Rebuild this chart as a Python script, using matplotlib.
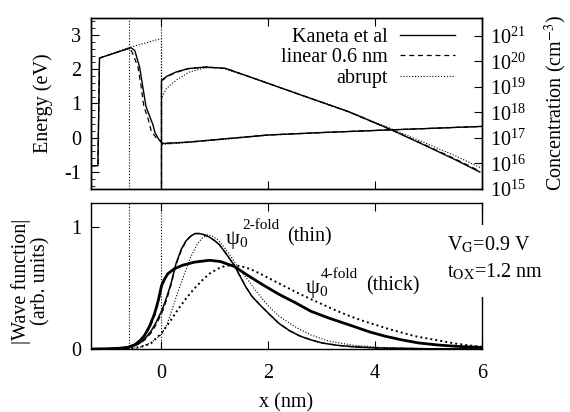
import numpy as np
import matplotlib
matplotlib.use("Agg")
import matplotlib.pyplot as plt
from matplotlib.patches import Rectangle

plt.rcParams['font.family'] = 'serif'
plt.rcParams['font.serif'] = ['Liberation Serif', 'DejaVu Serif']
plt.rcParams['mathtext.fontset'] = 'stix'
plt.rcParams['axes.unicode_minus'] = False
plt.rcParams['axes.linewidth'] = 1.0

FS = 14.5

# ---- top panel: band edges (eV) ----
band_x_kaneta = [-1.32, -1.19, -1.16, -0.57, -0.5, -0.41, -0.35, -0.29, -0.22, -0.16, -0.12,
                 -0.05, 0.02, 0.5, 1.0, 2.0, 3.0, 4.3, 5.0, 6.0]
band_e_kaneta = [-0.82, -0.82, 2.33, 2.63, 2.55, 2.07, 1.49, 0.91, 0.62, 0.38, 0.14,
                 -0.05, -0.17, -0.13, -0.06, 0.08, 0.15, 0.23, 0.27, 0.33]
band_x_linear = [-1.32, -1.19, -1.16, -0.6, -0.55, -0.44, -0.38, -0.33, -0.25, -0.19, -0.1,
                 -0.02, 0.02, 0.5, 1.0, 2.0, 3.0, 4.3, 5.0, 6.0]
band_e_linear = [-0.82, -0.82, 2.33, 2.62, 2.5, 2.07, 1.49, 0.91, 0.55, 0.18, 0.0,
                 -0.1, -0.17, -0.13, -0.06, 0.08, 0.15, 0.23, 0.27, 0.33]
band_x_abrupt = [-1.32, -1.19, -1.16, -0.6, 0.0, 0.0, 0.5, 1.0, 2.0, 3.0, 4.3, 5.0, 6.0]
band_e_abrupt = [-0.82, -0.82, 2.33, 2.64, 2.9, -0.2, -0.14, -0.07, 0.07, 0.15, 0.23, 0.27, 0.33]

# ---- top panel: electron concentration (cm^-3) ----
conc_x_kaneta = [0.0, 0.0, 0.1, 0.27, 0.5, 0.83, 1.2, 1.6, 2.2, 2.8, 3.5, 4.3, 5.0, 5.5, 5.96]
conc_n_kaneta = [1e10, 1.8e19, 2.6e19, 3.8e19, 5.2e19, 6.0e19, 5.3e19, 2.7e19, 9.7e18,
                 3.5e18, 1.07e18, 2.1e17, 4.4e16, 1.4e16, 4.6e15]
conc_x_linear = [0.0, 0.0, 0.1, 0.27, 0.5, 0.83, 1.2, 1.6, 2.2, 2.8, 3.5, 4.3, 5.0, 5.5, 5.96]
conc_n_linear = [1e10, 1.7e19, 2.5e19, 3.7e19, 5.2e19, 6.0e19, 5.3e19, 2.7e19, 9.7e18,
                 3.5e18, 1.07e18, 2.1e17, 4.6e16, 1.5e16, 5.0e15]
conc_x_abrupt = [0.0, 0.0, 0.09, 0.27, 0.52, 0.8, 1.1, 1.6, 2.2, 2.8, 3.5, 4.3, 5.0, 5.5, 5.96]
conc_n_abrupt = [1e10, 3.5e18, 8.5e18, 1.8e19, 3.8e19, 5.5e19, 5.7e19, 2.7e19, 9.7e18,
                 3.5e18, 1.1e18, 2.3e17, 5.6e16, 2.0e16, 7.0e15]

# ---- bottom panel: wave functions ----
psi2_x_kaneta = [-1.32, -1.0, -0.8, -0.63, -0.5, -0.4, -0.3, -0.19, -0.1, 0.02, 0.1, 0.18,
                 0.27, 0.37, 0.46, 0.55, 0.63, 0.71, 0.8, 0.9, 1.0, 1.08, 1.2, 1.36, 1.47,
                 1.58, 1.7, 1.85, 2.01, 2.2, 2.4, 2.6, 2.8, 3.0, 3.3, 3.6, 4.07, 5.0, 6.0]
psi2_kaneta = [0, 0.002, 0.006, 0.014, 0.03, 0.05, 0.09, 0.15, 0.22, 0.33, 0.43, 0.54,
               0.7, 0.82, 0.89, 0.93, 0.95, 0.95, 0.94, 0.92, 0.89, 0.86, 0.79, 0.69, 0.6,
               0.51, 0.43, 0.36, 0.29, 0.21, 0.15, 0.105, 0.075, 0.05, 0.03, 0.018, 0.008, 0.002, 0.0]
psi2_x_linear = [-1.32, -1.0, -0.8, -0.63, -0.5, -0.4, -0.3, -0.19, -0.1, 0.02, 0.1, 0.18,
                 0.27, 0.37, 0.46, 0.55, 0.63, 0.71, 0.8, 0.9, 1.0, 1.08, 1.2, 1.36, 1.47,
                 1.58, 1.7, 1.85, 2.01, 2.2, 2.4, 2.6, 2.8, 3.0, 3.3, 3.6, 4.07, 5.0, 6.0]
psi2_linear = [0, 0.002, 0.006, 0.013, 0.027, 0.045, 0.08, 0.135, 0.2, 0.31, 0.41, 0.53,
               0.69, 0.81, 0.89, 0.93, 0.95, 0.95, 0.94, 0.92, 0.89, 0.86, 0.79, 0.69, 0.6,
               0.51, 0.43, 0.36, 0.29, 0.21, 0.15, 0.105, 0.075, 0.05, 0.03, 0.018, 0.008, 0.002, 0.0]
psi2_x_abrupt = [-1.32, -0.6, -0.4, -0.2, 0.0, 0.1, 0.18, 0.3, 0.43, 0.55, 0.68, 0.78, 0.86,
                 0.95, 1.05, 1.15, 1.27, 1.42, 1.58, 1.8, 2.01, 2.2, 2.51, 2.8, 3.13, 3.6,
                 4.1, 5.0, 6.0]
psi2_abrupt = [0, 0.004, 0.015, 0.05, 0.12, 0.2, 0.3, 0.46, 0.62, 0.76, 0.87, 0.92, 0.94,
               0.93, 0.9, 0.85, 0.78, 0.68, 0.59, 0.46, 0.35, 0.27, 0.18, 0.115, 0.065, 0.03,
               0.013, 0.003, 0.0]

psi4_x_kaneta = [-1.32, -1.0, -0.8, -0.63, -0.5, -0.4, -0.32, -0.22, -0.13, -0.06, 0.0, 0.05,
                 0.12, 0.24, 0.4, 0.62, 0.9, 1.1, 1.36, 1.6, 1.89, 2.2, 2.51, 2.8, 3.13, 3.57,
                 3.9, 4.19, 4.5, 4.81, 5.2, 5.6, 6.0]
psi4_kaneta = [0, 0.002, 0.006, 0.014, 0.035, 0.07, 0.11, 0.19, 0.29, 0.4, 0.52, 0.57,
               0.62, 0.66, 0.69, 0.715, 0.73, 0.72, 0.68, 0.61, 0.53, 0.45, 0.38, 0.31, 0.255,
               0.19, 0.14, 0.105, 0.075, 0.05, 0.032, 0.02, 0.013]
psi4_x_linear = [-1.32, -1.0, -0.8, -0.63, -0.5, -0.4, -0.32, -0.22, -0.13, -0.06, 0.0, 0.05,
                 0.12, 0.24, 0.4, 0.62, 0.9, 1.1, 1.36, 1.6, 1.89, 2.2, 2.51, 2.8, 3.13, 3.57,
                 3.9, 4.19, 4.5, 4.81, 5.2, 5.6, 6.0]
psi4_linear = [0, 0.002, 0.006, 0.013, 0.032, 0.064, 0.1, 0.175, 0.27, 0.38, 0.5, 0.56,
               0.615, 0.66, 0.69, 0.715, 0.73, 0.72, 0.68, 0.61, 0.53, 0.45, 0.38, 0.31, 0.255,
               0.19, 0.14, 0.105, 0.075, 0.05, 0.032, 0.02, 0.013]
psi4_x_abrupt = [-1.32, -0.6, -0.4, -0.2, 0.0, 0.15, 0.3, 0.45, 0.6, 0.75, 0.9, 1.05, 1.2,
                 1.35, 1.5, 1.65, 1.8, 2.0, 2.2, 2.4, 2.6, 2.8, 3.0, 3.25, 3.5, 3.75, 4.0,
                 4.25, 4.5, 4.75, 5.0, 5.25, 5.5, 5.75, 6.0]
psi4_abrupt = [0, 0.005, 0.015, 0.045, 0.13, 0.22, 0.32, 0.41, 0.49, 0.56, 0.62, 0.66, 0.685,
               0.69, 0.68, 0.66, 0.63, 0.585, 0.54, 0.495, 0.45, 0.41, 0.37, 0.32, 0.275, 0.235,
               0.2, 0.165, 0.135, 0.105, 0.085, 0.065, 0.045, 0.03, 0.018]

interfaces = [-0.6, 0.0]
xlim = (-1.32, 6.0)
xticks = [0, 2, 4, 6]

dot = (0, (1, 1.6))
dash = (0, (4, 3))

fig = plt.figure(figsize=(5.7, 4.12), dpi=100)
ax1 = fig.add_axes([0.1596, 0.5413, 0.686, 0.415])
ax2 = fig.add_axes([0.1596, 0.1529, 0.686, 0.354])

# top panel
ax1.plot(band_x_kaneta, band_e_kaneta, color='black', lw=1.0, label='Kaneta et al')
ax1.plot(band_x_linear, band_e_linear, color='black', lw=0.9, ls=dash, label='linear 0.6 nm')
ax1.plot(band_x_abrupt, band_e_abrupt, color='black', lw=0.8, ls=dot, label='abrupt')
for xi in interfaces:
    ax1.axvline(xi, color='black', lw=0.8, ls=dot)
ax1.set_xlim(*xlim)
ax1.set_ylim(-1.5, 3.5)
ax1.set_xticks(xticks)
ax1.set_yticks([-1, 0, 1, 2, 3])
ax1.set_yticks(np.arange(-1.4, 3.5, 0.2), minor=True)
ax1.tick_params(axis='x', which='major', direction='in', length=6, top=True, labelbottom=False)
ax1.tick_params(axis='y', which='major', direction='in', length=6, labelsize=FS, pad=7)
ax1.tick_params(axis='y', which='minor', direction='in', length=3)

ax1r = ax1.twinx()
ax1r.plot(conc_x_kaneta, conc_n_kaneta, color='black', lw=1.0)
ax1r.plot(conc_x_linear, conc_n_linear, color='black', lw=0.9, ls=dash)
ax1r.plot(conc_x_abrupt, conc_n_abrupt, color='black', lw=0.8, ls=dot)
ax1r.set_yscale('log')
ax1r.set_ylim(1e15, 5e21)
ax1r.set_yticks([1e15, 1e16, 1e17, 1e18, 1e19, 1e20, 1e21])
ax1r.tick_params(axis='y', which='major', direction='in', length=6, labelsize=FS, pad=6)
ax1r.tick_params(axis='y', which='minor', direction='in', length=3)

leg = ax1.legend(loc='upper right', bbox_to_anchor=(0.931, 0.94), frameon=False,
                 markerfirst=False, fontsize=FS, handlelength=2.75, handletextpad=0.6,
                 labelspacing=0.05, borderpad=0, borderaxespad=0)

# bottom panel
ax2.plot(psi2_x_kaneta, psi2_kaneta, color='black', lw=1.1)
ax2.plot(psi2_x_linear, psi2_linear, color='black', lw=0.9, ls=dash)
ax2.plot(psi2_x_abrupt, psi2_abrupt, color='black', lw=0.8, ls=dot)
ax2.plot(psi4_x_kaneta, psi4_kaneta, color='black', lw=2.0)
ax2.plot(psi4_x_linear, psi4_linear, color='black', lw=0.9, ls=dash)
ax2.plot(psi4_x_abrupt, psi4_abrupt, color='black', lw=1.4, ls=dot)
for xi in interfaces:
    ax2.axvline(xi, color='black', lw=0.8, ls=dot)
ax2.set_xlim(*xlim)
ax2.set_ylim(0, 1.2)
ax2.set_xticks(xticks)
ax2.set_yticks([0, 1])
ax2.tick_params(axis='x', which='major', direction='in', length=6, top=True, labelsize=FS, pad=11)
ax2.tick_params(axis='y', which='major', direction='in', length=6, labelsize=FS, pad=7)

# annotations
ax2.text(1.21, 0.90, 'ψ', fontsize=16, va='center')
ax2.text(1.46, 0.87, '0', fontsize=11, va='center')
ax2.text(1.52, 1.02, '2-fold', fontsize=11, va='center')
ax2.text(2.35, 0.925, '(thin)', fontsize=FS, va='center')
ax2.text(2.70, 0.50, 'ψ', fontsize=16, va='center')
ax2.text(2.96, 0.465, '0', fontsize=11, va='center')
ax2.text(2.99, 0.61, '4-fold', fontsize=11, va='center')
ax2.text(3.83, 0.52, '(thick)', fontsize=FS, va='center')

ax2.add_patch(Rectangle((0.905, 0.356), 0.2, 0.493, transform=ax2.transAxes,
                        facecolor='white', edgecolor='none', clip_on=False, zorder=3))
ax2.text(0.91, 0.712, 'V$_{\\rm G}$=0.9 V', transform=ax2.transAxes, fontsize=FS,
         va='center', ha='left', zorder=4, clip_on=False)
ax2.text(0.91, 0.527, 't$_{\\rm OX}$=1.2 nm', transform=ax2.transAxes, fontsize=FS,
         va='center', ha='left', zorder=4, clip_on=False)

# axis labels
fig.text(0.0754, 0.75, 'Energy (eV)', rotation=90, ha='center', va='center', fontsize=FS)
fig.text(0.975, 0.75, 'Concentration (cm$^{-3}$)', rotation=90, ha='center', va='center', fontsize=FS)
fig.text(0.054, 0.318, '|Wave function|\n(arb. units)', rotation=90, ha='center', va='center',
         fontsize=FS, linespacing=1.0)
fig.text(0.502, 0.022, 'x (nm)', ha='center', va='center', fontsize=FS)

fig.savefig('out.png', dpi=100)
